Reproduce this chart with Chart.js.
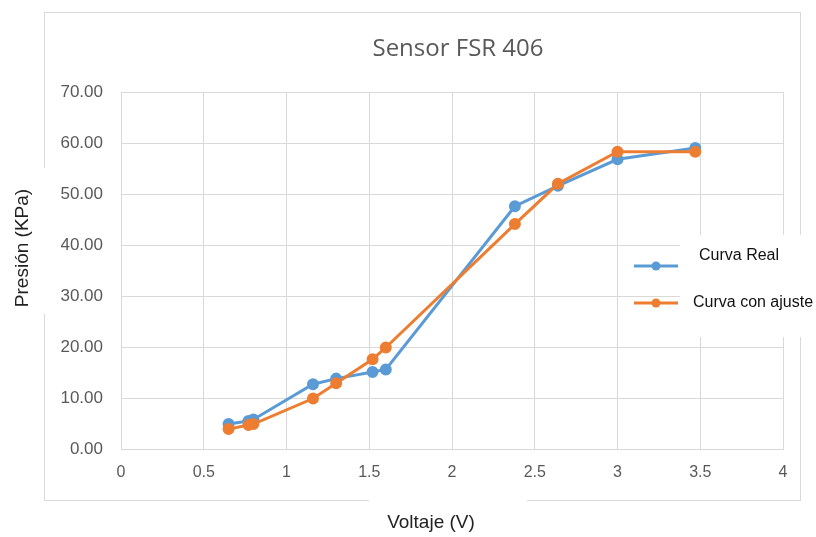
<!DOCTYPE html>
<html>
<head>
<meta charset="utf-8">
<script src="https://cdn.jsdelivr.net/npm/chart.js@4.4.1/dist/chart.umd.min.js"></script>
<style>
  html, body { margin: 0; padding: 0; background: #fff; }
  #wrap { width: 816px; height: 537px; position: relative; }
</style>
</head>
<body>
<div id="wrap"><canvas id="myChart" width="816" height="537"></canvas></div>
<script>
// data
const voltaje = [0.65, 0.77, 0.80, 1.16, 1.30, 1.52, 1.60, 2.38, 2.64, 3.00, 3.47];
const curvaReal = [4.9, 5.5, 5.8, 12.7, 13.8, 15.1, 15.6, 47.6, 51.6, 56.8, 59.0];
const curvaAjuste = [3.9, 4.7, 4.9, 9.9, 12.9, 17.6, 19.9, 44.1, 52.0, 58.3, 58.3];
const seriesNames = ['Curva Real', 'Curva con ajuste'];
const chartTitle = 'Sensor FSR 406';
const xTitle = 'Voltaje (V)';
const yTitle = 'Presión (KPa)';

const blue = '#5B9BD5';
const orange = '#ED7D31';
const grid = '#d9d9d9';
const tickColor = '#595959';

function pts(ys) {
    return voltaje.map((x, i) => ({ x: x, y: ys[i] }));
}

// frame, title, axis titles and legend, drawn like the spreadsheet
const decor = {
    id: 'decor',
    beforeDraw(chart) {
        const ctx = chart.ctx;
        ctx.save();
        ctx.fillStyle = '#fff';
        ctx.fillRect(0, 0, chart.width, chart.height);
        ctx.strokeStyle = grid;
        ctx.lineWidth = 1;
        ctx.strokeRect(44.5, 12.5, 756, 488);
        ctx.restore();
    },
    afterDraw(chart) {
        const ctx = chart.ctx;
        ctx.save();
        // white text boxes that cover the frame
        ctx.fillStyle = '#fff';
        ctx.fillRect(36, 168, 18, 146);     // y title box
        ctx.fillRect(369, 494, 158, 14);    // x title box
        ctx.fillRect(680, 235, 136, 102);   // legend box

        ctx.fillStyle = tickColor;
        ctx.textAlign = 'center';
        ctx.textBaseline = 'middle';
        ctx.font = '24px "Open Sans"';
        ctx.fillText(chartTitle, 458, 49);

        ctx.fillStyle = '#222';
        ctx.font = '19px "Liberation Sans"';
        ctx.fillText(xTitle, 431, 523);
        ctx.save();
        ctx.translate(23, 248);
        ctx.rotate(-Math.PI / 2);
        ctx.fillText(yTitle, 0, 0);
        ctx.restore();

        // legend
        const rows = [
            { y: 266, ty: 256, tx: 699 },
            { y: 303, ty: 303, tx: 693 }
        ];
        chart.data.datasets.forEach((ds, i) => {
            const r = rows[i];
            ctx.strokeStyle = ds.borderColor;
            ctx.lineWidth = 3;
            ctx.beginPath();
            ctx.moveTo(634, r.y);
            ctx.lineTo(678, r.y);
            ctx.stroke();
            ctx.fillStyle = ds.borderColor;
            ctx.beginPath();
            ctx.arc(656, r.y, 4.5, 0, Math.PI * 2);
            ctx.fill();
            ctx.fillStyle = '#111';
            ctx.textAlign = 'left';
            ctx.font = '16px "Liberation Sans"';
            ctx.fillText(ds.label, r.tx, r.ty);
        });
        ctx.restore();
    }
};

new Chart(document.getElementById('myChart'), {
    type: 'scatter',
    data: {
        datasets: [{
            label: seriesNames[0],
            data: pts(curvaReal),
            showLine: true,
            borderColor: blue,
            backgroundColor: blue,
            borderWidth: 3,
            pointRadius: 4.5,
            pointHoverRadius: 4.5,
            order: 2
        }, {
            label: seriesNames[1],
            data: pts(curvaAjuste),
            showLine: true,
            borderColor: orange,
            backgroundColor: orange,
            borderWidth: 3,
            pointRadius: 4.5,
            pointHoverRadius: 4.5,
            order: 1
        }]
    },
    options: {
        responsive: false,
        animation: false,
        layout: { padding: { left: 0, right: 33, top: 92, bottom: 0 } },
        plugins: {
            legend: { display: false },
            title: { display: false },
            tooltip: { enabled: false }
        },
        scales: {
            x: {
                type: 'linear',
                min: 0,
                max: 4,
                afterFit(scale) { scale.height = 88; },
                grid: { color: grid, drawTicks: false },
                border: { color: grid },
                ticks: {
                    stepSize: 0.5,
                    padding: 14,
                    color: tickColor,
                    font: { family: 'Liberation Sans', size: 16 },
                    callback: v => String(v)
                }
            },
            y: {
                min: 0,
                max: 70,
                afterFit(scale) { scale.width = 121; },
                grid: { color: grid, drawTicks: false },
                border: { display: false },
                ticks: {
                    stepSize: 10,
                    padding: 18,
                    color: tickColor,
                    font: { family: 'Liberation Sans', size: 17 },
                    callback: v => v.toFixed(2)
                }
            }
        }
    },
    plugins: [decor]
});
</script>
</body>
</html>
